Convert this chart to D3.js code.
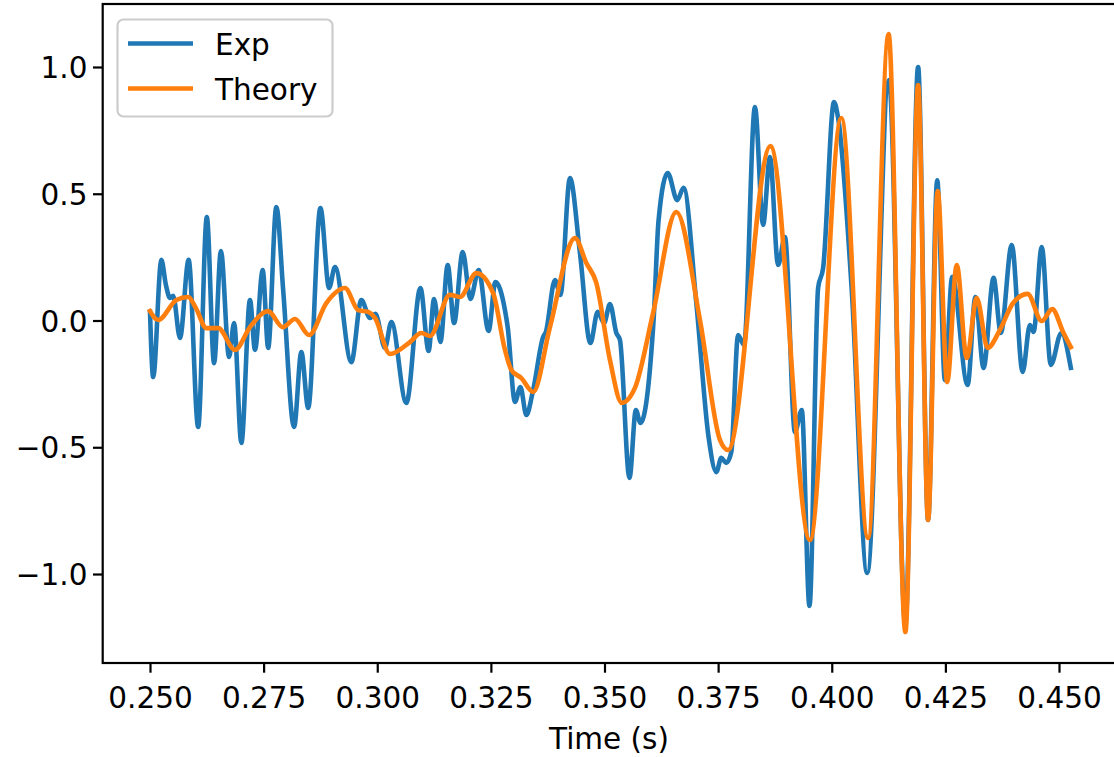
<!DOCTYPE html>
<html>
<head>
<meta charset="utf-8">
<script src="https://cdn.jsdelivr.net/npm/d3@7"></script>
<style>
  html, body { margin: 0; padding: 0; background: #fff; }
  svg { display: block; }
  text { font-family: "DejaVu Sans", sans-serif; fill: #000; }
</style>
</head>
<body>
<svg id="chart" width="1114" height="757"></svg>
<script>
// ---------------- data ----------------
const expTime = [0.2500,0.2507,0.2525,0.2535,0.2544,0.2551,0.2566,0.2585,0.2606,0.2625,0.2641,0.2656,0.2674,0.2685,0.2701,0.2720,0.2731,0.2748,0.2760,0.2778,0.2793,0.2817,0.2833,0.2848,0.2875,0.2894,0.2907,0.2943,0.2965,0.2984,0.2996,0.3017,0.3031,0.3064,0.3095,0.3113,0.3125,0.3139,0.3155,0.3169,0.3188,0.3205,0.3223,0.3245,0.3260,0.3281,0.3287,0.3303,0.3315,0.3328,0.3343,0.3365,0.3371,0.3391,0.3403,0.3424,0.3446,0.3469,0.3485,0.3499,0.3512,0.3526,0.3534,0.3555,0.3569,0.3579,0.3608,0.3619,0.3639,0.3660,0.3674,0.3702,0.3729,0.3746,0.3757,0.3768,0.3779,0.3794,0.3807,0.3831,0.3849,0.3864,0.3882,0.3897,0.3919,0.3934,0.3951,0.3970,0.3981,0.4005,0.4014,0.4044,0.4078,0.4126,0.4162,0.4190,0.4212,0.4232,0.4249,0.4265,0.4299,0.4316,0.4334,0.4356,0.4372,0.4396,0.4420,0.4436,0.4444,0.4462,0.4482,0.4505,0.4526];
const expValues = [0.034,-0.223,0.239,0.140,0.089,0.097,-0.069,0.239,-0.420,0.408,-0.168,0.274,-0.144,-0.010,-0.483,0.081,-0.116,0.199,-0.108,0.448,0.120,-0.420,-0.124,-0.345,0.444,0.128,0.211,-0.164,0.081,0.010,0.026,-0.108,-0.006,-0.325,0.128,-0.120,0.085,-0.085,0.219,-0.010,0.270,0.085,0.199,-0.041,0.152,0.041,-0.026,-0.321,-0.262,-0.373,-0.274,-0.065,-0.045,0.160,0.101,0.562,0.266,-0.089,0.034,-0.010,0.065,-0.049,-0.077,-0.621,-0.353,-0.404,0.002,0.396,0.582,0.475,0.523,0.069,-0.460,-0.598,-0.542,-0.562,-0.519,-0.057,-0.097,0.842,0.377,0.645,0.219,0.329,-0.440,-0.353,-1.126,0.128,0.207,0.862,0.799,0.120,-0.996,0.949,-1.201,1.000,-0.787,0.553,-0.235,0.172,-0.254,0.093,-0.187,0.168,-0.049,0.298,-0.203,-0.018,-0.045,0.290,-0.175,-0.049,-0.187];

const theoryTime = [0.2500,0.2518,0.2558,0.2584,0.2601,0.2624,0.2650,0.2687,0.2720,0.2753,0.2760,0.2792,0.2819,0.2850,0.2888,0.2929,0.2958,0.2980,0.2995,0.3028,0.3072,0.3097,0.3116,0.3160,0.3182,0.3218,0.3255,0.3281,0.3295,0.3317,0.3343,0.3380,0.3435,0.3460,0.3482,0.3512,0.3538,0.3567,0.3607,0.3658,0.3710,0.3754,0.3772,0.3865,0.3952,0.4021,0.4080,0.4125,0.4162,0.4190,0.4212,0.4233,0.4254,0.4275,0.4297,0.4319,0.4343,0.4370,0.4399,0.4431,0.4462,0.4485,0.4509,0.4526];
const theoryValues = [0.037,0.002,0.081,0.093,0.049,-0.030,-0.030,-0.116,-0.026,0.034,0.037,-0.026,0.006,-0.057,0.069,0.128,0.041,0.034,0.010,-0.132,-0.085,-0.049,-0.061,0.101,0.093,0.187,0.108,-0.116,-0.195,-0.227,-0.282,-0.026,0.325,0.227,0.148,-0.156,-0.325,-0.266,0.030,0.428,0.002,-0.471,-0.511,0.688,-0.866,0.799,-0.858,1.130,-1.229,0.929,-0.787,0.511,-0.243,0.219,-0.148,0.089,-0.108,-0.037,0.069,0.105,-0.002,0.045,-0.045,-0.105];

const xTicks = [0.250,0.275,0.300,0.325,0.350,0.375,0.400,0.425,0.450];
const yTicks = [-1.0,-0.5,0.0,0.5,1.0];
const seriesNames = ["Exp","Theory"];
const seriesColors = ["#1f77b4","#ff7f0e"];
const xLabel = "Time (s)";

// ---------------- layout ----------------
const svg = d3.select("#chart");
const pLeft = 102.7, pRight = 1122, pTop = 4, pBottom = 663;
const x = d3.scaleLinear().domain([0.239593, 0.463861]).range([pLeft, pRight]);
const y = d3.scaleLinear().domain([-1.3510, 1.2485]).range([pBottom, pTop]);

const clipId = "plotclip";
svg.append("defs").append("clipPath").attr("id", clipId)
  .append("rect").attr("x", pLeft).attr("y", pTop).attr("width", pRight-pLeft).attr("height", pBottom-pTop);

const expData = expTime.map((t,i)=>[t, expValues[i]]);
const theoryData = theoryTime.map((t,i)=>[t, theoryValues[i]]);

const line = d3.line().x(d=>x(d[0])).y(d=>y(d[1])).curve(d3.curveMonotoneX);

const g = svg.append("g").attr("clip-path", `url(#${clipId})`);
[expData, theoryData].forEach((data, i) => {
  g.append("path").datum(data)
    .attr("d", line)
    .attr("fill", "none")
    .attr("stroke", seriesColors[i])
    .attr("stroke-width", 4.6)
    .attr("stroke-linejoin", "round")
    .attr("stroke-linecap", "square");
});

// axes
const fontSize = 29.5;
const xAxis = d3.axisBottom(x).tickValues(xTicks).tickFormat(d3.format(".3f")).tickSizeOuter(0).tickSize(9.7).tickPadding(13);
const gx = svg.append("g").attr("transform", `translate(0,${pBottom})`).call(xAxis);
const yAxis = d3.axisLeft(y).tickValues(yTicks).tickFormat(d => d3.format(".1f")(d).replace("-", "\u2212")).tickSizeOuter(0).tickSize(9.7).tickPadding(5.5);
const gy = svg.append("g").attr("transform", `translate(${pLeft},0)`).call(yAxis);
[gx, gy].forEach(a => {
  a.select(".domain").remove();
  a.selectAll(".tick line").attr("stroke", "#000").attr("stroke-width", 2.2);
  a.selectAll(".tick text").attr("font-size", fontSize).attr("font-family", "DejaVu Sans").attr("fill", "#000");
});
gx.selectAll(".tick text").attr("dy", "0.75em");
gy.selectAll(".tick text").attr("dy", "0.36em");

// frame
svg.append("rect").attr("x", pLeft).attr("y", pTop).attr("width", pRight-pLeft).attr("height", pBottom-pTop)
  .attr("fill", "none").attr("stroke", "#000").attr("stroke-width", 2.2);

// x label
svg.append("text").attr("x", 609).attr("y", 749)
  .attr("text-anchor", "middle").attr("font-size", fontSize).text(xLabel);

// legend
const lg = svg.append("g");
lg.append("rect").attr("x", 117.5).attr("y", 19.5).attr("width", 215).attr("height", 97).attr("rx", 6)
  .attr("fill", "#fff").attr("fill-opacity", 0.8).attr("stroke", "#cccccc").attr("stroke-width", 2.2);
seriesNames.forEach((name, i) => {
  const yy = 43.5 + i * 45;
  lg.append("line").attr("x1", 128).attr("x2", 193).attr("y1", yy).attr("y2", yy)
    .attr("stroke", seriesColors[i]).attr("stroke-width", 4.6);
  lg.append("text").attr("x", 215).attr("y", yy + 11).attr("font-size", fontSize).text(name);
});
</script>
</body>
</html>
